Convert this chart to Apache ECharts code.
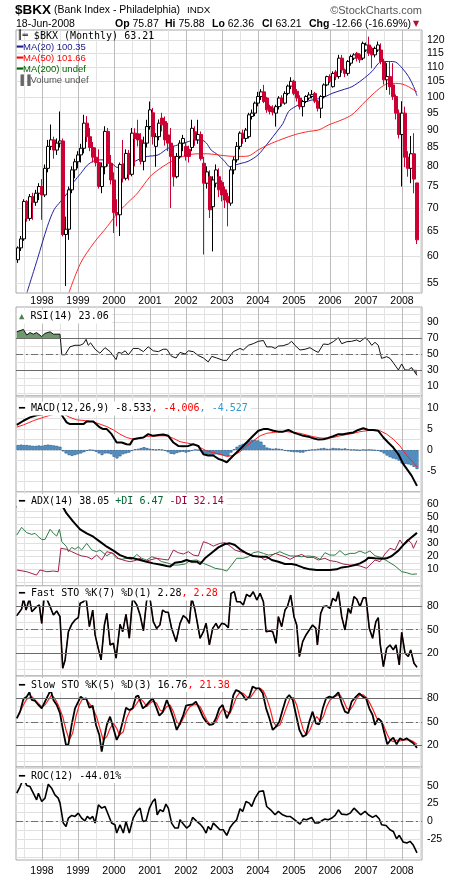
<!DOCTYPE html>
<html>
<head>
<meta charset="utf-8">
<title>$BKX monthly</title>
<script src="https://cdn.jsdelivr.net/npm/echarts@6/dist/echarts.min.js"></script>
<style>
  html, body { margin: 0; padding: 0; background: #fff; }
  #main { width: 460px; height: 880px; }
</style>
</head>
<body>
<div id="main"></div>
<script>
// months counted from May 1997 (0) to Jun 2008 (133)
const open = [59.3,61.6,63.4,71.5,67.7,72.6,71.3,73.4,75.0,73.0, 79.5,85.3,87.1,84.3,86.2,86.8,64.3,65.4,74.2,79.1,
  81.2,83.0,84.8,91.9,88.0,85.0,82.4,81.0,75.0,79.9, 89.5,80.8,76.6,69.0,68.5,80.5,77.0,83.4,78.0,89.0,
  88.8,87.1,81.3,86.2,90.9,95.0,85.3,88.0,93.4,92.4, 88.5,86.2,82.6,77.4,82.6,86.2,85.3,84.5,85.0,89.4,
  87.1,88.6,80.8,75.8,77.4,70.3,75.8,77.4,76.0,74.2, 72.6,71.1,79.1,81.7,85.3,89.0,87.5,88.0,93.9,94.9,
  98.0,100.1,101.6,99.6,96.9,96.4,94.9,96.9,99.6,98.0, 101.1,103.5,105.1,101.8,99.6,96.9,98.5,99.6,100.1,101.1,
  98.6,96.4,100.1,103.9,106.7,103.3,108.3,106.7,113.2,109.0, 107.8,111.4,113.2,115.0,114.4,113.2,116.2,118.1,116.8,114.4,
  116.2,116.2,112.0,105.6,106.7,103.9,100.1,94.9,88.6,94.9, 82.4,79.5,83.3,75.87];
const high = [61.9,64.0,72.0,71.8,73.2,73.5,74.2,75.8,76.8,80.5, 87.1,91.5,88.0,87.5,95.4,87.5,68.1,75.0,80.0,82.0,
  84.0,86.0,94.4,94.0,90.5,86.5,85.0,84.5,81.0,91.0, 90.5,83.0,78.5,72.0,81.0,87.1,84.5,84.3,90.5,90.4,
  92.9,89.0,88.0,92.9,98.5,96.5,89.0,93.0,95.0,93.9, 92.0,90.5,85.5,83.5,87.0,88.5,86.5,85.5,92.9,91.0,
  92.9,89.5,82.5,80.0,79.0,77.5,80.5,79.5,76.5,75.0, 73.5,80.0,82.5,86.5,89.5,90.0,90.5,95.0,96.0,98.5,
  101.6,102.5,103.9,100.0,97.5,97.3,97.5,100.2,100.5,101.8, 104.0,106.5,105.6,102.5,100.5,99.0,100.5,101.5,102.2,101.6,
  99.0,100.5,104.4,107.0,107.5,108.5,109.0,114.4,114.4,109.5, 112.5,114.5,115.0,115.5,115.0,119.4,119.0,121.3,117.5,117.5,
  119.4,118.7,113.0,111.4,112.0,111.4,100.8,96.0,98.6,96.9, 84.0,88.2,89.0,75.88];
const low = [58.7,61.0,63.0,67.0,67.2,67.4,70.5,71.8,67.4,72.5, 78.5,84.3,82.0,83.0,85.0,63.9,54.5,63.2,73.4,77.0,
  79.5,81.0,83.4,86.5,84.0,81.0,80.0,74.5,73.4,78.0, 80.0,75.5,64.6,66.0,64.0,76.0,76.5,76.5,77.5,80.0,
  85.3,80.5,79.0,85.0,90.0,85.8,79.9,87.0,89.5,85.5, 84.0,70.0,75.0,77.0,82.0,84.0,81.5,81.0,84.0,85.5,
  86.0,81.5,60.3,74.5,67.8,60.9,74.8,72.5,71.5,70.0, 66.0,70.5,78.0,81.0,84.5,86.0,86.5,87.5,93.0,94.0,
  97.0,99.0,98.0,95.0,94.5,94.2,90.9,96.0,97.0,97.5, 100.5,102.5,100.5,98.5,96.0,93.9,98.0,99.0,99.5,98.0,
  95.4,93.4,99.5,103.5,104.5,103.0,105.5,106.0,108.0,106.5, 107.0,110.5,112.5,112.0,111.5,112.5,115.5,114.0,109.6,113.5,
  115.5,111.0,104.0,102.2,100.7,99.0,93.0,87.5,75.0,79.8, 77.4,75.8,73.4,62.36];
const close = [61.6,63.4,71.5,67.7,72.6,71.3,73.4,75.0,73.0,79.5, 85.3,87.1,84.3,86.2,86.8,64.3,65.4,74.2,79.1,81.2,
  83.0,84.8,91.9,88.0,85.0,82.4,81.0,75.0,79.9,89.5, 80.8,76.6,69.0,68.5,80.5,77.0,83.4,78.0,89.0,87.5,
  87.1,81.3,86.2,90.9,95.9,88.0,88.0,91.9,91.4,87.1, 86.2,82.6,77.4,82.6,86.2,87.5,82.6,82.6,90.4,87.1,
  88.6,82.0,75.8,78.6,69.6,76.6,79.1,74.2,73.0,71.8, 71.3,79.1,81.7,85.3,89.0,87.5,89.9,94.4,94.9,98.0,
  100.1,101.6,98.5,95.9,95.4,95.2,96.9,99.6,98.0,101.1, 103.5,105.1,101.1,99.6,96.9,98.5,100.1,100.6,100.7,98.6,
  96.4,100.1,103.9,106.7,105.1,107.8,106.7,113.2,109.0,107.8, 112.0,113.8,114.4,113.2,112.6,118.7,118.1,115.0,114.4,116.8,
  118.1,112.0,105.6,106.7,103.3,100.1,94.9,88.6,94.9,82.4, 79.5,83.3,76.8,63.21];

// moving averages, [month, price]
const ma20 = [[3,53.4],[6.4,59.3],[9.8,66.0],[12,69.6],[14.2,71.5],[16.4,73.4],[18.7,76.2],[20.9,78.2],[23.1,80.3],
  [25.3,81.4],[27.6,81.7],[29.8,81.5],[32,80.3],[33.1,79.7],[34.2,80.3],[36.4,81.0],[38.7,81.2],[40.9,82.1],[43.1,82.6],
  [46.7,83.0],[50,84.8],[53.3,85.7],[56.7,86.6],[58.9,87.1],[61.1,87.1],[62.8,86.2],[64.4,84.3],[66.7,83.0],[68.9,81.3],
  [70.6,79.9],[72.2,80.3],[74.4,80.8],[76.7,81.3],[80,83.0],[83.3,86.2],[86.7,89.9],[88.3,91.8],[90.2,95.4],[92.4,96.9],
  [94.7,98.0],[98,99.0],[101.3,99.6],[104.7,101.1],[108,102.2],[111.3,103.3],[114.7,105.6],[118,108.5],[120.2,111.4],
  [121.3,112.0],[123.6,112.0],[125.8,111.8],[128,109.7],[130.2,106.7],[131.9,103.3],[133,100.35]];
const ma50 = [[17,53.4],[20.9,58.7],[25.3,62.6],[29.8,66.0],[33.1,68.8],[36.4,71.1],[39.8,73.4],[44,77.4],[46.7,79.1],
  [50,80.8],[53.3,82.1],[56.7,83.0],[60,83.3],[63.3,83.3],[66.7,83.0],[70,82.7],[73.3,82.6],[76.7,82.7],[80,84.3],
  [83.3,85.7],[88,87.3],[92.4,88.6],[96.9,89.5],[100.2,89.9],[103.6,91.4],[108,92.9],[111.3,94.4],[114.7,97.5],
  [118,100.6],[121.3,103.3],[123.6,104.4],[125.8,104.4],[128,104.2],[130.2,103.3],[132.4,101.9],[133,101.66]];

const rsi = [[-0.4,78],[0.1,77],[1.8,81],[2.9,74],[4,77],[5.1,75],[6.2,77],[7.9,72],[9,76],[10.7,78],[11.8,75],[14,75],
  [14.6,49],[15.7,49],[17.3,59],[19,61],[20.7,61],[21.8,63],[22.7,68.5],[23.4,61],[24.2,64],[25.7,56],[27.3,51],[29,58],
  [30.7,53],[32.7,43],[33.4,52],[34.6,51],[35.7,54],[36.8,49],[38.4,57],[40.1,57],[41.8,53],[43.4,59],[45.1,54],[46.8,53],
  [48.4,56],[49.6,56],[51.2,47],[52.7,45],[54,52],[55.7,50],[56.8,54],[58.4,53],[60.1,48],[61.8,45],[63.4,40],[64.6,47],
  [66.2,45],[68.4,42],[69.6,42],[71.8,53],[74,57],[75.1,55],[76.8,61],[78.4,63],[80.1,66],[81.8,67],[82.9,59],[84.6,59],
  [85.7,57],[86.8,60],[88.4,60.5],[90.1,62.6],[91.2,66],[92.3,61],[94,55],[95.7,56],[97.3,58],[99,54],[100.1,52],
  [101.8,62.6],[103.4,62],[105.1,65.5],[106.8,70.6],[107.9,63],[109.6,65.5],[111.2,66],[112.9,67.7],[114,65.5],
  [115.7,70.6],[116.8,67],[117.9,61],[119,64.7],[120.1,61],[121.2,44.5],[122.9,46.6],[124,44.5],[125.1,39],[126.8,29.8],
  [127.9,37.4],[129,29.8],[130.1,29.8],[131.2,33],[133,23.06]];

const macd = [[-0.4,6.0],[1.8,7.0],[4,7.8],[6.2,8.3],[7.9,8.5],[10,9.0],[12,9.4],[14,9.2],[14.9,8.0],[16.2,6.6],[17.3,6.2],
  [19.6,6.2],[21.8,6.2],[22.9,6.8],[25.1,6.8],[27.3,5.4],[28.4,5.0],[29.6,5.0],[31.2,3.8],[32.9,1.8],[34.6,1.8],[36.2,1.4],
  [37.3,1.3],[38.4,2.6],[40.1,2.8],[41.8,3.0],[43.4,3.8],[45.1,3.4],[46.8,3.6],[48.4,3.7],[50.1,3.4],[51.8,1.8],[53.4,1.0],
  [55.1,0.9],[56.8,1.0],[58.4,1.4],[60.1,1.0],[61.8,-1.0],[63.4,-1.3],[65.1,-1.3],[66.8,-2.1],[68.4,-2.5],[69.6,-2.9],
  [71.8,-1.3],[74,0.2],[76.2,1.8],[78.4,3.4],[80.1,4.6],[81.8,5.0],[83.4,5.0],[85.1,4.6],[86.8,4.4],[88.4,4.4],[90.1,4.8],
  [91.8,4.2],[93.4,3.8],[95.1,3.4],[96.8,3.2],[98.4,2.8],[100.1,2.5],[101.8,2.6],[103.4,2.9],[105.1,3.3],[106.8,3.8],
  [108.4,3.8],[110.1,4.0],[111.8,4.2],[113.4,4.8],[115.1,5.2],[116.8,4.8],[118.4,4.8],[120.1,4.6],[121.8,3.0],[123.4,1.8],
  [125.1,0.6],[126.8,-1.0],[128.4,-3.3],[129.6,-4.5],[131.2,-6.1],[133,-8.533]];
const macdSignal = [[-0.4,5.5],[1.8,6.0],[5.1,7.0],[8.4,7.8],[10.7,8.3],[14,8.8],[15.1,8.6],[17.3,7.8],[19.6,7.2],[22.9,7.0],
  [25.1,6.7],[27.3,6.2],[29.6,5.6],[31.8,4.8],[34,3.8],[36.2,3.0],[38.4,2.6],[40.7,2.8],[42.9,3.3],[45.1,3.3],[47.3,3.4],
  [49.6,3.4],[51.8,2.8],[54,2.0],[56.2,1.7],[58.4,1.4],[60.7,0.6],[62.9,-0.2],[65.1,-0.6],[67.3,-1.0],[69.6,-1.5],
  [71.8,-1.3],[74,-0.4],[76.2,1.0],[78.4,2.2],[80.7,3.4],[82.9,4.0],[85.1,4.2],[87.3,4.4],[89.6,4.4],[91.8,4.2],[94,4.0],
  [96.2,3.6],[98.4,3.2],[100.7,2.9],[102.9,2.8],[105.1,3.0],[107.3,3.4],[109.6,3.7],[111.8,4.0],[114,4.4],[116.2,4.6],
  [118.4,4.8],[120.7,4.6],[122.9,3.8],[125.1,2.6],[127.3,1.0],[129.6,-1.3],[131.2,-2.5],[133,-4.006]];
// histogram, one bar per month
const macdHist = [1.2,1.3,1.2,1.2,1.1,1.0,1.0,1.1,1.0,1.2, 1.3,1.2,1.1,1.0,0.8,-0.3,-0.8,-1.2,-1.4,-1.2,
  -1.0,-0.8,-0.5,-0.2,0,-0.1,-0.4,-0.8,-1.2,-0.8, -0.8,-1.0,-1.6,-2.0,-1.5,-1.0,-0.8,-0.6,-0.2,0.2,
  0.3,0.5,0.7,0.5,0.3,0.2,0.1,0.2,0.1,-0.2, -0.5,-0.9,-1.0,-0.7,-0.5,-0.4,-0.6,-0.4,-0.2,0.1,
  0.0,-0.3,-0.8,-1.0,-1.4,-1.3,-1.0,-1.1,-1.2,-1.4, -1.5,-0.6,0.2,0.8,1.2,1.5,1.8,2.2,2.4,2.4,
  2.3,2.0,1.2,0.6,0.4,0.3,0.4,0.3,0.2,-0.2, -0.3,-0.4,-0.5,-0.5,-0.6,-0.6,-0.3,-0.1,0.1,0.1,
  0.3,0.4,0.5,0.3,0.3,0.5,0.4,0.4,0.3,0.4, 0.2,0.1,0.1,0.0,-0.1,0.1,0.0,0.1,0.0,-0.1,
  -0.2,-0.4,-0.8,-1.3,-1.7,-2.0,-2.2,-2.5,-3.2,-3.3, -3.4,-3.6,-4.0,-4.527];

const adx = [[-0.4,57.7],[0.7,58.7],[2.3,60],[14.6,59.5],[16.2,53],[18.4,46.7],[20.7,40.8],[22.9,37.7],[25.1,35.1],
  [27.3,31.3],[29.6,27.4],[31.8,24.4],[34,21],[36.2,19],[38.4,18.5],[40.7,17.2],[42.9,15.9],[45.1,14.6],[47.3,13.8],
  [49.6,12.6],[50.7,12.1],[52.3,15.1],[54.6,15.9],[56.2,17.2],[57.9,15.9],[59.6,15.9],[60.7,14.1],[62.3,18.5],[64.6,22.8],
  [66.8,26.9],[69,29.5],[70.7,30],[72.3,28.7],[74,25.4],[76.2,22.3],[78.4,20.3],[80.7,19.7],[82.9,19.7],[84.6,17.2],
  [86.8,15.9],[89,14.1],[91.2,14.1],[92.9,13.3],[95.1,11.3],[97.3,10],[99.6,9.5],[101.8,9.5],[104,9.5],[106.2,10],
  [107.9,11.5],[110.1,12.1],[112.3,13.3],[114,14.6],[115.7,16.7],[116.8,19],[119,18.5],[121.2,18.2],[122.9,18.5],
  [124.6,20.3],[126.8,24.4],[128.4,28.7],[130.7,33.8],[133,38.05]];
const plusDI = [[-0.4,36.4],[1.2,42.3],[2.9,38.2],[4.6,36.9],[5.7,37.7],[6.8,35.1],[7.9,33],[9,33],[10.7,40.8],[11.8,37.7],
  [12.9,35.6],[13.8,40.8],[14.6,31.3],[16.2,27.4],[16.8,23.6],[17.9,26.9],[19,25.4],[20.1,27.4],[21.2,24.9],[22.9,30],
  [24.6,24.9],[26.2,23.6],[27.3,24.9],[29.6,20.5],[31.2,22.8],[32.9,18.5],[34.6,17.7],[36.2,18.5],[37.9,17.7],[39.6,21.5],
  [41.2,18.5],[42.9,17.2],[44.6,19.7],[46.2,18.5],[47.9,15.9],[49.6,15.1],[51.8,13.3],[53.4,13.3],[55.7,14.1],[57.3,16.7],
  [59.6,17.2],[61.8,14.6],[64,12.6],[65.7,10.8],[67.9,10],[69.6,8.7],[71.2,13.3],[72.9,18.5],[75.1,18.5],[76.8,19.7],
  [78.4,22.8],[80.1,23.6],[81.8,22.3],[83.4,21],[85.1,21.5],[87.3,23.6],[89,21.8],[90.7,20.3],[92.3,20.3],[94.6,19.7],
  [96.8,20.3],[99,19.7],[100.7,17.7],[102.3,22.8],[104,21],[105.7,21],[107.3,24.4],[109,21],[110.7,22.3],[112.3,22.3],
  [114,24.1],[115.7,22.3],[117.3,24.1],[119,20.5],[121.2,19],[123.4,15.9],[125.7,12.6],[127.9,8.2],[129.6,7.4],
  [131.2,6.2],[133,6.47]];
const minusDI = [[-0.4,9.5],[2.9,8.2],[6.2,5.6],[7.3,9.5],[9.6,8.2],[11.8,8.7],[13.4,8.2],[14.3,26.2],[16.2,25.4],
  [17.9,23.6],[19.6,21.8],[21.2,20.3],[22.9,19.7],[24.6,17.9],[26.2,21],[27.9,17.2],[29.6,23.6],[31.8,22.3],[33.4,18.5],
  [35.7,16.7],[37.3,15.9],[39,16.7],[40.7,18.5],[42.3,15.9],[44,17.2],[46.2,18.5],[48.4,17.7],[50.1,17.2],[51.8,24.9],
  [53.4,22.8],[55.1,21.8],[56.8,23.6],[58.4,21],[60.1,20.3],[61.8,31.3],[63.4,30],[65.1,27.9],[67.3,30],[69,30.5],
  [70.7,27.9],[72.3,24.9],[74,23.6],[76.2,22.8],[78.4,20.3],[80.7,19.7],[82.3,17.2],[84,19.7],[85.7,22.3],[87.3,21],
  [89,19.7],[90.7,17.7],[92.3,19.7],[94.6,21.5],[96.2,19.2],[98.4,19.2],[100.1,17.2],[102.3,18.5],[104,16.7],[106.2,15.9],
  [108.4,14.1],[110.7,13.3],[112.3,13.3],[114,12.6],[116.2,10.8],[117.3,13.3],[119,17.2],[120.7,15.9],[122.3,21.8],
  [124,26.2],[125.7,24.9],[127.3,32.6],[128.4,28.7],[129.8,33],[131.2,30],[131.8,26.2],[133,32.14]];

const fastK = [[-0.4,67.8],[1.2,76.2],[1.8,89.7],[2.7,74.9],[3.8,89.7],[4.6,72.8],[6.2,79.2],[7.1,81.3],[7.9,58],[8.7,90.5],
  [9.6,88.9],[10.7,79.2],[11.8,68.6],[12.9,73.7],[14,66.5],[14.9,1.1],[15.7,11.6],[16.8,47.5],[17.9,56.8],[19,62.3],
  [20.1,65.2],[20.7,83.4],[21.8,85.5],[22.7,89.7],[23.8,53.8],[24.9,74.9],[25.7,43.3],[26.6,28.5],[27.7,11.6],[28.8,55.9],
  [29.6,70.7],[30.7,30.6],[31.8,32.7],[32.7,13.8],[34,56.8],[34.9,47.5],[36,69.5],[37.1,39.1],[38.2,89.7],[39.6,81.3],
  [40.7,68.6],[41.8,48.4],[42.9,87.6],[44,89.7],[45.1,60.2],[46.2,51.7],[47.3,55.9],[48.2,74.9],[49.3,72],[50.1,72],
  [51.2,51.7],[52.7,34.9],[54,58],[55.1,67.8],[56.2,64.4],[57.1,58],[57.9,90.5],[59,74.9],[59.6,72.8],[60.7,39.1],
  [61.8,47.5],[62.7,58],[63.8,30.6],[64.9,51.7],[66,58],[66.8,51.7],[67.9,58],[69,56.8],[70.1,52.6],[71,96],[72.1,98.1],
  [72.9,85.5],[74,85.5],[75.1,81.3],[76.2,94.8],[77.3,91.8],[78.4,98.1],[79.6,87.6],[80.7,96],[81.8,85.5],[82.7,47.5],
  [84,48.4],[84.9,47.5],[86,32.7],[86.8,66.5],[87.9,53.8],[89,74.9],[89.8,79.2],[90.9,93.9],[92,66.5],[92.9,55.9],
  [93.8,15.9],[94.9,34.9],[96,43.3],[97.1,49.6],[98.2,55.9],[99.3,51.7],[99.8,30.6],[100.9,70.7],[101.8,79.2],[102.9,80],
  [104,77],[104.9,89.7],[106,86.3],[106.8,98.1],[107.9,66.5],[109,49.6],[110.1,77],[110.9,70.7],[112,91.8],[112.9,88.9],
  [114,79.2],[115.1,90.5],[116,90.5],[117.1,51.7],[118.2,39.1],[119.3,60.2],[120.1,65.2],[120.7,32.7],[121.8,3.2],
  [122.9,26.4],[124,30.6],[125.1,24.3],[126,30.6],[127.1,5.3],[127.9,46.7],[129,20.1],[130.1,15.9],[130.9,24.3],[132,7.4],
  [133,2.28]];

const slowK = [[-0.4,54.5],[0.7,63],[1.8,79],[2.9,82],[3.8,87.7],[4.6,77.9],[5.7,76.6],[6.8,71.5],[7.9,67.2],[9,75.7],
  [10.1,84.3],[10.9,90.6],[11.8,77.9],[12.9,71.5],[14,60.9],[14.9,41.7],[16,20.4],[16.8,21.3],[17.9,46.6],[19,67.2],
  [20.1,75.7],[20.9,82.1],[21.8,79.1],[22.7,80],[23.8,68],[24.9,70.6],[26,46],[27.1,33.2],[27.9,11.9],[28.7,29],[29.6,46],
  [30.7,56.6],[31.8,41.7],[32.9,26.8],[33.8,34],[34.9,50.2],[36,68],[37.1,65.1],[38.2,67.2],[39.3,82.1],[40.1,83.4],
  [41.6,67.2],[42.7,70.6],[43.8,75.7],[44.9,80],[46,69.4],[47.1,57.9],[48.2,62.1],[49.6,77.9],[50.7,67.2],[51.8,54.5],
  [52.9,39.6],[54,48.1],[55.1,58.7],[56,70.6],[57.1,71.5],[58.2,72.3],[59.3,75.7],[60.4,67.2],[61.6,56.6],[62.7,50.2],
  [63.8,46],[64.9,46.8],[66,54.5],[67.1,67.2],[68.2,71.5],[69.6,54.5],[70.7,63.8],[71.8,84.3],[72.7,90.6],[73.8,88.5],
  [74.9,84.3],[76,77.9],[77.1,82.1],[78.2,94.9],[79.3,92.8],[80.4,92.8],[81.6,86.4],[82.7,67.2],[83.8,54.5],[84.9,39.6],
  [86,43.8],[87.1,50.2],[88.2,65.1],[89.3,79.1],[90.4,84.3],[91.6,77.9],[92.7,58.7],[93.8,39.6],[94.9,31.1],[96,33.2],
  [97.1,50.2],[98.2,63],[99.3,48.1],[100.4,46.8],[101.6,67.2],[102.7,80],[103.8,82.1],[104.9,80.9],[106,84.3],[106.8,87.7],
  [107.9,73.6],[109,63],[110.1,60.9],[111.2,75.7],[112.7,82.1],[113.8,86.4],[114.9,82.1],[116,80],[117.1,67.2],[118.2,58.7],
  [119,46],[120.1,54.5],[121.2,50.2],[122.3,33.2],[123.1,21.3],[124.2,26.8],[125.1,29.8],[126.2,21.3],[127.3,28.9],
  [128.4,26.8],[129.6,28.9],[130.7,25.5],[131.8,22.6],[133,16.76]];
const slowD = [[0.1,58.7],[1.8,71.5],[2.9,79],[4.6,82],[5.7,77.9],[6.8,73.6],[7.9,69.4],[9,71.5],[10.1,77.9],[11.2,84.3],
  [12.3,79.6],[13.4,71.5],[14.9,56.6],[16,39.6],[17.1,26.8],[18.2,35.3],[19.3,56.6],[20.4,71.5],[21.6,80],[22.7,79.1],
  [23.8,73.6],[24.9,67.2],[26.2,56.6],[27.3,41.7],[28.4,26.8],[29.6,31.1],[30.7,41.7],[31.8,48.1],[32.9,41.7],[33.8,33.2],
  [35.1,37.4],[36.2,54.5],[37.3,63.8],[38.4,67.2],[39.6,73.6],[40.7,80],[41.8,75.7],[42.9,69.4],[44,73.6],[45.1,76.6],
  [46.2,73.6],[47.3,65.1],[48.4,63],[49.6,69.4],[50.7,71.5],[51.8,63],[52.9,50.2],[54,46],[55.1,54.5],[56.2,63],[57.3,69.4],
  [58.4,71.5],[59.6,72.3],[60.7,69.4],[61.8,60.9],[62.9,52.3],[64,46.8],[65.1,46.8],[66.2,51],[67.3,60.9],[68.4,67.2],
  [69.6,63],[70.7,60.9],[71.8,71.5],[72.9,82.1],[74,87.7],[75.1,86.4],[76.2,82.1],[77.3,80],[78.4,86.4],[79.6,92.8],
  [80.7,92.8],[81.8,89.4],[82.9,80],[84,67.2],[85.1,50.2],[86.2,43.8],[87.3,46],[88.4,56.6],[89.6,69.4],[90.7,80],
  [91.8,80.9],[92.9,71.5],[94,54.5],[95.1,39.6],[96.2,33.2],[97.3,39.6],[98.4,50.2],[99.6,56.6],[100.7,51],[101.8,56.6],
  [102.9,69.4],[104,77.9],[105.1,80.9],[106.2,83.4],[107.3,84.3],[108.4,77.9],[109.6,67.2],[110.7,65.1],[111.8,71.5],
  [112.9,80],[114,84.3],[115.1,84.3],[116.2,80.9],[117.3,73.6],[118.4,65.1],[119.6,54.5],[120.7,52.3],[121.8,46],
  [122.9,35.3],[124,26.8],[125.1,24.7],[126.2,26.8],[127.3,25.5],[128.4,26.8],[129.6,26.8],[130.7,26.8],[131.8,24.7],
  [133,21.38]];

const roc = [[-0.4,39.5],[0.7,48.8],[1.6,58.1],[2.3,56.7],[2.9,50.2],[4,48.8],[5.1,39.5],[6.2,30.2],[6.8,39.5],[7.9,27.9],
  [9,32.6],[10.1,52.1],[11.2,46.5],[12.3,37.2],[13.4,32.6],[14,25.6],[15.1,-2.3],[16,-7],[16.8,4.7],[17.9,8.4],[19,7],
  [20.1,11.6],[21.2,4.7],[22.3,0.9],[23.1,7],[24,3.7],[24.9,7],[25.7,-2.3],[26.8,23.3],[27.9,18.6],[29,20.9],[30.1,9.3],
  [31.2,-2.3],[32.3,-4.7],[32.9,-16.3],[34,-4.7],[35.1,-16.3],[36,0],[37.1,-16.3],[38.4,4.7],[39.6,14],[40.7,18.6],
  [41.6,0],[42.7,0.9],[43.8,18.6],[44.9,27.9],[45.7,31.6],[46.4,9.3],[47.3,16.3],[48.4,14],[49.3,24.2],[50.1,18.6],
  [51.2,-2.3],[52.3,-9.3],[53.4,-9.3],[54,2.3],[55.1,-3.7],[56.2,-9.3],[57.3,-5.6],[58.2,5.6],[59.6,0],[60.7,-3.7],
  [61.8,-9.3],[62.7,-16.3],[63.4,-7],[64.3,-11.6],[65.1,-2.3],[66.2,-7],[67.3,-11.6],[68.4,-11.6],[69.6,-19.5],[70.7,-8.4],
  [71.8,-2.3],[72.9,2.3],[74,17.7],[74.9,14],[76,27.9],[77.1,25.6],[77.9,20.9],[79,32.6],[80.4,41.9],[81.8,42.8],[82.9,20.9],
  [84.2,16.3],[85.7,9.3],[86.8,14],[88.2,9.3],[89.6,7],[90.7,7],[91.8,3.7],[92.9,0],[94,-3.7],[95.1,3.3],[96.2,2.3],
  [97.9,5.6],[99,-2.3],[100.1,-2.3],[101.2,0.9],[102.3,3.3],[103.4,2.3],[104.6,4.7],[105.7,8.4],[106.8,16.3],[107.9,10.2],
  [109.6,9.3],[110.7,11.6],[112,18.6],[113.1,14],[114.2,9.3],[115.7,14],[116.8,9.3],[118.2,5.6],[119.3,8.4],[120.4,3.7],
  [121.2,-4.7],[122.7,-5.6],[124,-11.6],[125.1,-14],[126.2,-24.2],[127.1,-19.5],[128.4,-28.8],[129.6,-30.2],[130.7,-27.9],
  [131.8,-33.5],[133,-44.01]];

// axis ticks
const priceTicks = [55,60,65,70,75,80,85,90,95,100,105,110,115,120];
const halfYears = [2,8,14,20,26,32,38,44,50,56,62,68,74,80,86,92,98,104,110,116,122,128,134];
const yearStarts = [8,20,32,44,56,68,80,92,104,116,128];
const yearNames = ['1998','1999','2000','2001','2002','2003','2004','2005','2006','2007','2008'];

const MONO = 'DejaVu Sans Mono';
const SANS = 'Liberation Sans';
const RED = '#cc0033';
const ln = Math.log;

const gridTops = [30, 307, 396, 492, 586, 676, 767];
const gridHeights = [263, 89, 96, 94, 90, 91, 93];

const grids = gridTops.map((t, k) => ({
  left: 16, width: 406, top: t, height: gridHeights[k],
  show: true, borderColor: '#a8a8a8', borderWidth: 1, backgroundColor: '#fff'
}));

function xAxisFor(k, showLabels, margin) {
  return {
    type: 'value', gridIndex: k, min: -0.67, max: 134.67,
    axisLine: { show: false },
    axisTick: { show: false, customValues: halfYears },
    splitLine: { show: true, lineStyle: { color: ['#e3e3e3', '#bcbcbc'], width: 1 } },
    axisLabel: {
      show: showLabels, customValues: yearStarts, margin: margin,
      formatter: v => yearNames[yearStarts.indexOf(Math.round(v))] || '',
      fontFamily: SANS, fontSize: 10.5, color: '#000'
    }
  };
}

function yAxisFor(k, min, max, ticks, labels, fmt) {
  return {
    type: 'value', gridIndex: k, position: 'right', min: min, max: max, scale: true,
    axisLine: { show: false },
    axisTick: { show: false, customValues: ticks },
    splitLine: { show: true, lineStyle: { color: '#e0e0e0', width: 1 } },
    axisLabel: {
      customValues: labels, margin: 5, fontFamily: SANS, fontSize: 10.5, color: '#000',
      formatter: fmt || (v => String(v))
    }
  };
}

const range = (a, b, s) => { const r = []; for (let v = a; v <= b + 1e-9; v += s) r.push(+v.toFixed(2)); return r; };

const lineS = (xi, data, color, width, extra) => Object.assign({
  type: 'line', xAxisIndex: xi, yAxisIndex: xi, data: data, symbol: 'none', showSymbol: false,
  lineStyle: { color: color, width: width }, itemStyle: { color: color }, silent: true, animation: false, z: 3
}, extra || {});

const hLines = (solid, dash) => ({
  silent: true, symbol: ['none', 'none'], label: { show: false }, animation: false,
  data: solid.map(v => ({ yAxis: v, lineStyle: { color: '#6a6a6a', width: 1, type: 'solid' } }))
    .concat(dash.map(v => ({ yAxis: v, lineStyle: { color: '#707070', width: 1, type: [7, 3, 2, 3] } })))
});

const candles = open.map((o, i) => [i, ln(o), ln(close[i]), ln(low[i]), ln(high[i])]);
const toLog = arr => arr.map(p => [p[0], ln(p[1])]);

const legendText = { fontFamily: MONO, fontSize: 10, color: '#000', lineHeight: 12 };
const rich = {
  k: legendText,
  i: Object.assign({}, legendText, { fontWeight: 'bold' }),
  r: Object.assign({}, legendText, { color: '#ff0000' }),
  c: Object.assign({}, legendText, { color: '#3399cc' }),
  g: Object.assign({}, legendText, { color: '#006633' }),
  d: Object.assign({}, legendText, { color: '#990033' }),
  gi: Object.assign({}, legendText, { color: '#4f7f4f', fontSize: 9 })
};
const panelLegend = (top, text) => ({
  left: 17, top: top, text: text, padding: [1, 3, 1, 2], backgroundColor: '#fff',
  textStyle: { rich: rich, fontFamily: MONO, fontSize: 10, lineHeight: 12, fontWeight: 'normal', color: '#000' }
});

const maText = { fontFamily: SANS, fontSize: 9.5, lineHeight: 11 };
const mainRich = {
  t: { fontFamily: MONO, fontSize: 10, color: '#000', lineHeight: 11 },
  ic: { fontFamily: MONO, fontSize: 9, color: '#000', lineHeight: 11, fontWeight: 'bold' },
  b: Object.assign({}, maText, { color: '#1a1a8c', fontWeight: 'bold' }),
  rb: Object.assign({}, maText, { color: '#ff0000', fontWeight: 'bold' }),
  gb: Object.assign({}, maText, { color: '#006600', fontWeight: 'bold' }),
  vb: Object.assign({}, maText, { color: '#666' }),
  s1: Object.assign({}, maText, { color: '#1a1a8c' }),
  s2: Object.assign({}, maText, { color: '#ff0000' }),
  s3: Object.assign({}, maText, { color: '#006600' }),
  s4: Object.assign({}, maText, { color: '#555' })
};

const plain = (size, extra) => Object.assign({ fontFamily: SANS, fontSize: size, fontWeight: 'normal', color: '#000' }, extra || {});
const headItem = (left, label, value) => ({
  left: left, top: 18.5, padding: 0, text: '{b|' + label + '} {n|' + value + '}',
  textStyle: Object.assign(plain(10.5), { rich: {
    b: plain(10.5, { fontWeight: 'bold' }), n: plain(10.5)
  } })
});

const titles = [
  { left: 15, top: 3, padding: 0, text: '$BKX', textStyle: plain(13.5, { fontWeight: 'bold' }) },
  { left: 54, top: 4.5, padding: 0, text: '(Bank Index - Philadelphia)', textStyle: plain(10.5) },
  { left: 187, top: 5.5, padding: 0, text: 'INDX', textStyle: plain(9.8) },
  { right: 38, top: 5, padding: 0, text: '\u00a9StockCharts.com', textStyle: plain(11, { color: '#555' }) },
  { left: 16, top: 18.5, padding: 0, text: '18-Jun-2008', textStyle: plain(10.5) },
  headItem(115, 'Op', '75.87'),
  headItem(165, 'Hi', '75.88'),
  headItem(212, 'Lo', '62.36'),
  headItem(262, 'Cl', '63.21'),
  headItem(309, 'Chg', '-12.66 (-16.69%)'),
  { left: 413, top: 20, padding: 0, text: '\u25bc', textStyle: { fontFamily: 'DejaVu Sans', fontSize: 8, color: '#b01030' } },
  { left: 17, top: 30.5, padding: 0,
    text: '{ic|\u2551\u2550} {t|$BKX (Monthly) 63.21}\n{b|\u2501}{s1|MA(20) 100.35}\n{rb|\u2501}{s2|MA(50) 101.66}\n{gb|\u2501}{s3|MA(200) undef}\n{vb|\u2590\u2590}{s4|Volume undef}',
    textStyle: { rich: mainRich, fontFamily: MONO, fontSize: 10, lineHeight: 11, fontWeight: 'normal', color: '#000' } },
  panelLegend(309.5, '{gi|\u25b2} {k|RSI(14) 23.06}'),
  panelLegend(401.5, '{i|\u2501} {k|MACD(12,26,9) -8.533}{r|, -4.006}{c|, -4.527}'),
  panelLegend(494, '{i|\u2501} {k|ADX(14) 38.05} {g|+DI 6.47} {d|-DI 32.14}'),
  panelLegend(586.5, '{i|\u2501} {k|Fast STO %K(7) %D(1) 2.28}{r|, 2.28}'),
  panelLegend(678, '{i|\u2501} {k|Slow STO %K(5) %D(3) 16.76}{r|, 21.38}'),
  panelLegend(769, '{i|\u2501} {k|ROC(12) -44.01%}')
];

const option = {
  animation: false,
  backgroundColor: '#fff',
  title: titles,
  grid: grids,
  xAxis: gridTops.map((t, k) => xAxisFor(k, k === 0 || k === 6, k === 0 ? 3 : 6)),
  yAxis: [
    yAxisFor(0, ln(53.3), ln(123.9), priceTicks.map(ln), priceTicks.map(ln), v => String(Math.round(Math.exp(v)))),
    yAxisFor(1, -3, 109.3, range(0, 100, 10), [10, 30, 50, 70, 90]),
    yAxisFor(2, -10, 12.9, range(-10, 12.5, 2.5), [-5, 0, 5, 10]),
    yAxisFor(3, -2.8, 69.5, range(0, 65, 5), [10, 20, 30, 40, 50, 60]),
    yAxisFor(4, -8.8, 105.4, range(0, 100, 10), [20, 50, 80]),
    yAxisFor(5, -7.7, 108.5, range(0, 100, 10), [20, 50, 80]),
    yAxisFor(6, -54, 76.2, range(-50, 75, 12.5), [-25, 0, 25, 50])
  ],
  series: [
    {
      type: 'candlestick', xAxisIndex: 0, yAxisIndex: 0, data: candles, barWidth: 3, silent: true, z: 4,
      itemStyle: { color: '#ffffff', color0: RED, borderColor: '#000000', borderColor0: RED, borderWidth: 1 }
    },
    lineS(0, toLog(ma20), '#2020a0', 1, { smooth: 0.3 }),
    lineS(0, toLog(ma50), '#ff2a2a', 1, { smooth: 0.3 }),

    lineS(1, rsi.filter(p => p[0] <= 14), '#000', 0, { areaStyle: { origin: 70, color: '#6d996d', opacity: 1 }, z: 2 }),
    lineS(1, rsi.filter(p => p[0] >= 131), '#000', 0, { areaStyle: { origin: 30, color: '#9c6a6a', opacity: 1 }, z: 2 }),
    lineS(1, rsi, '#111', 1, { markLine: hLines([70, 30], [50]) }),

    {
      type: 'bar', xAxisIndex: 2, yAxisIndex: 2, barWidth: 3, silent: true, z: 2,
      data: macdHist.map((v, i) => [i, v]),
      itemStyle: { color: '#5b9fd6', borderColor: '#2b5f8e', borderWidth: 0.7 }
    },
    lineS(2, macdSignal, '#ff2020', 1),
    lineS(2, macd, '#000', 2),

    lineS(3, plusDI, '#2e7d46', 1),
    lineS(3, minusDI, '#a3204c', 1),
    lineS(3, adx, '#000', 2),

    lineS(4, fastK, '#cc2222', 1, { z: 2, markLine: hLines([80, 20], [50]) }),
    lineS(4, fastK, '#000', 1.6),

    lineS(5, slowD, '#ff2020', 1.2, { markLine: hLines([80, 20], [50]) }),
    lineS(5, slowK, '#000', 1.8),

    lineS(6, roc, '#000', 1.6, { markLine: hLines([], [0]) })
  ]
};

const chart = echarts.init(document.getElementById('main'), null, { renderer: 'canvas' });
chart.setOption(option);
</script>
</body>
</html>
